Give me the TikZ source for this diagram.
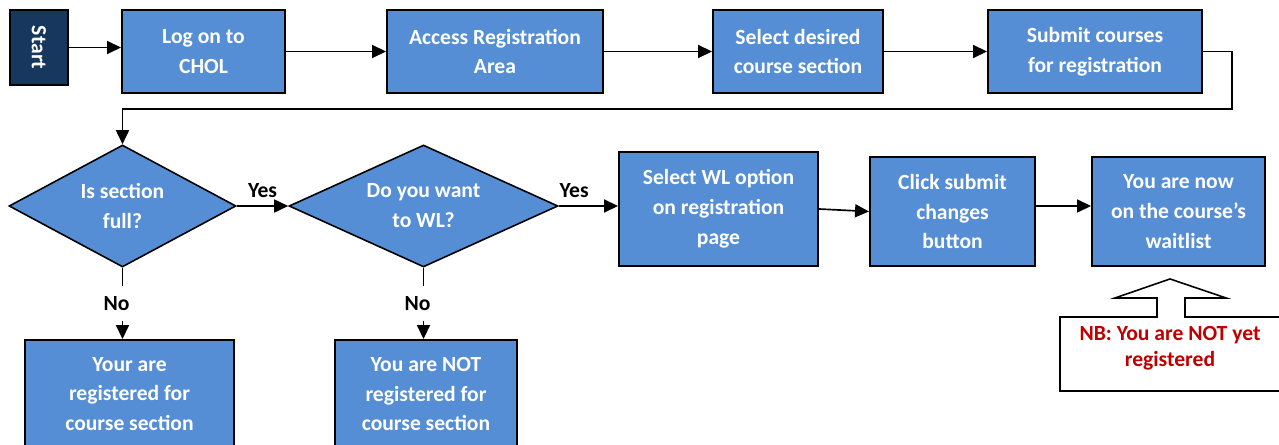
\documentclass[tikz,border=0pt]{standalone}
\usepackage{fontspec}
\setmainfont{Carlito}
\usetikzlibrary{arrows.meta,positioning,shapes.geometric,calc}
\definecolor{boxblue}{HTML}{558ED5}
\definecolor{navy}{HTML}{17375E}
\definecolor{nbred}{HTML}{C00000}

\begin{document}
\begin{tikzpicture}[font=\bfseries\fontsize{12.3}{17}\selectfont, >={Triangle[length=0.28cm,width=0.26cm]}]
\useasboundingbox (0,0) rectangle (25.58,-8.9);
\clip (0,0) rectangle (25.58,-8.9);
\tikzset{stepbox/.style={draw=black, line width=1.1pt, fill=boxblue, text=white, align=center, inner sep=2pt},
  decision/.style={diamond, draw=black, line width=0.9pt, fill=boxblue, text=white, align=center, inner sep=0pt, aspect=1.86},
  flow/.style={->, line width=0.95pt},
  tag/.style={text=black}}
% top row
\node[stepbox,fill=navy,rotate=-90,minimum width=1.5cm,minimum height=1.16cm] (start) at (0.78,-0.95) {Start};
\node[stepbox,minimum width=3.26cm,minimum height=1.66cm] (logon) at (4.07,-1.03) {Log on to\\CHOL};
\node[stepbox,minimum width=4.32cm,minimum height=1.66cm] (access) at (9.9,-1.03) {Access Registration\\Area};
\node[stepbox,minimum width=3.4cm,minimum height=1.66cm] (select) at (15.96,-1.03) {Select desired\\course section};
\node[stepbox,minimum width=4.28cm,minimum height=1.66cm] (submit) at (21.9,-1.03) {Submit courses\\for registration};
\foreach \a/\b in {logon/access,access/select,select/submit}{\draw[flow] (\a.east)--(\b.west);}
\draw[flow] (start.north)--(start.north -| logon.west);
% decisions
\node[decision,minimum width=4.54cm,minimum height=2.44cm] (full) at (2.45,-4.12) {Is section\\full?};
\node[decision,minimum width=5.38cm,minimum height=2.44cm] (wantwl) at (8.47,-4.12) {Do you want\\to WL?};
\draw[flow] (submit.east) -- ++(0.58,0) |- ($(full.north)+(0,0.7)$) -- (full.north);
% outcomes
\node[stepbox,minimum width=4.18cm,minimum height=2.16cm] (isreg) at (2.59,-7.88) {Your are\\registered for\\course section};
\node[stepbox,minimum width=3.64cm,minimum height=2.16cm] (notreg) at (8.52,-7.88) {You are NOT\\registered for\\course section};
\node[stepbox,minimum width=3.98cm,minimum height=2.28cm] (wl) at (14.37,-4.18) {Select WL option\\on registration\\page};
\node[stepbox,minimum width=3.3cm,minimum height=2.18cm] (click) at (19.05,-4.23) {Click submit\\changes\\button};
\node[stepbox,minimum width=3.46cm,minimum height=2.18cm] (waitl) at (23.57,-4.23) {You are now\\on the course’s\\waitlist};
\draw[flow] (full.east) -- node[tag,above,yshift=0.04cm] (yes1) {Yes} (wantwl.west);
\draw[flow] (wantwl.east) -- node[tag,above,pos=0.26,yshift=0.04cm] (yes2) {Yes} (wantwl.east -| wl.west);
\draw[flow] (full.south) -- node[tag,fill=white,minimum height=0.7cm,inner sep=0pt,xshift=-0.12cm] (no1) {No} (full.south |- isreg.north);
\draw[flow] (wantwl.south) -- node[tag,fill=white,minimum height=0.7cm,inner sep=0pt,xshift=-0.12cm] (no2) {No} (wantwl.south |- notreg.north);
\draw[flow] (wl.east)--(click.west);
\draw[flow] ([yshift=0.11cm]click.east)--([yshift=0.11cm]waitl.west);
% NB callout
\coordinate (tip) at ($(waitl.south)+(-0.17,-0.24)$);
\draw[line width=0.9pt,fill=white] (tip) -- ($(tip)+(1.12,-0.38)$) -- ($(tip)+(0.3,-0.38)$) -- ($(tip)+(0.3,-0.76)$) -- ($(tip)+(2.4,-0.76)$) -- ($(tip)+(2.4,-2.24)$) -- ($(tip)+(-2.2,-2.24)$) -- ($(tip)+(-2.2,-0.76)$) -- ($(tip)+(-0.26,-0.76)$) -- ($(tip)+(-0.26,-0.38)$) -- ($(tip)+(-1.1,-0.38)$) -- cycle;
\node[text=nbred,align=center,font=\bfseries\fontsize{12.3}{15}\selectfont] (nb) at ($(tip)+(0,-1.38)$) {NB: You are NOT yet\\registered};
\end{tikzpicture}
\end{document}
